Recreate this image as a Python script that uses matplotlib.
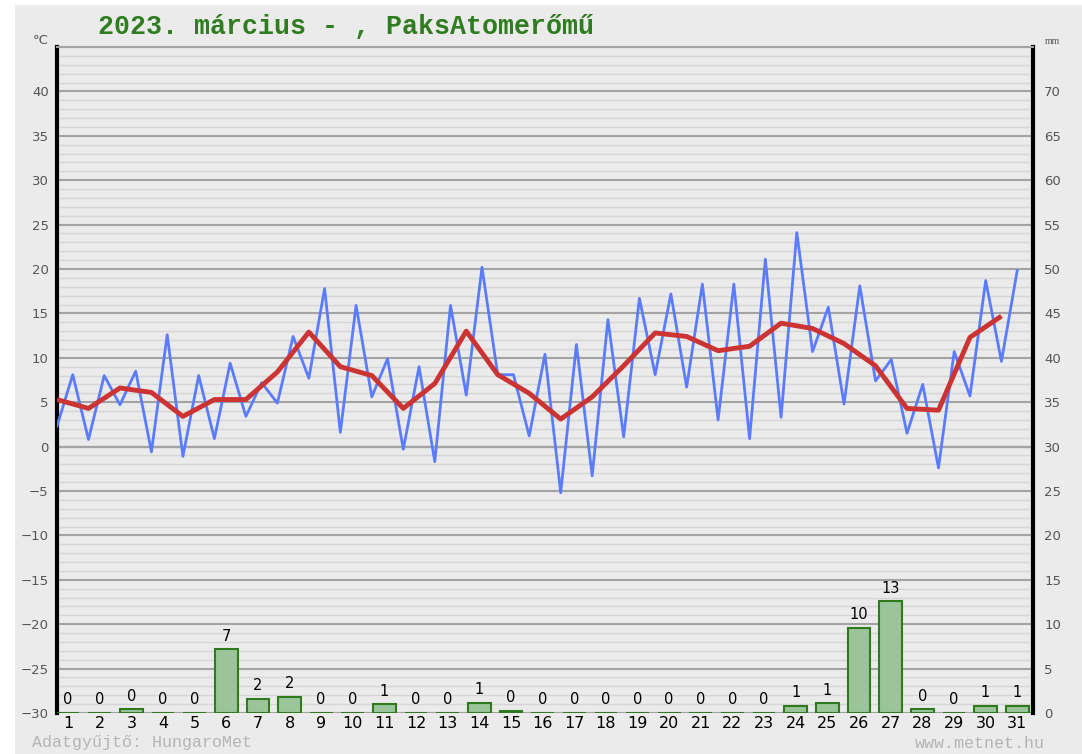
import matplotlib.pyplot as plt
import matplotlib.patches as mpatches
import numpy as np

# daily readings, 2023 March, Paks
days = list(range(1, 32))
tmin = [2.3, 0.8, 4.7, -0.6, -1.1, 0.9, 3.4, 4.9, 7.7, 1.6, 5.6, -0.3, -1.7, 5.8, 8.1, 1.2,
        -5.2, -3.3, 1.1, 8.1, 6.7, 3.0, 0.9, 3.3, 10.7, 4.8, 7.4, 1.5, -2.4, 5.7, 9.6]
tmax = [8.1, 8.0, 8.5, 12.6, 8.0, 9.4, 7.2, 12.4, 17.8, 15.9, 9.9, 9.0, 15.9, 20.2, 8.1, 10.4,
        11.5, 14.3, 16.7, 17.2, 18.3, 18.3, 21.1, 24.1, 15.7, 18.1, 9.8, 7.0, 10.7, 18.7, 19.8]
tmean = [5.3, 4.3, 6.6, 6.1, 3.4, 5.3, 5.3, 8.4, 12.9, 9.0, 8.0, 4.3, 7.1, 13.0, 8.1, 6.0,
         3.1, 5.6, 9.1, 12.8, 12.4, 10.8, 11.3, 13.9, 13.3, 11.6, 9.1, 4.3, 4.1, 12.3, 14.7]
precip = [0, 0, 0.4, 0, 0, 7.2, 1.6, 1.8, 0, 0, 1.0, 0, 0, 1.15, 0.25, 0,
          0, 0, 0, 0, 0, 0, 0, 0.8, 1.1, 9.6, 12.6, 0.4, 0, 0.8, 0.8]

W, H = 1082, 754
fig = plt.figure(figsize=(W / 100, H / 100), dpi=100, facecolor='white')
fig.patches.append(mpatches.Rectangle((15 / W, 0), 1, 1 - 5 / H, transform=fig.transFigure,
                                      facecolor='#ebebeb', edgecolor='none', zorder=-10))

ax = fig.add_axes([57 / W, 1 - 713 / H, (1033 - 57) / W, (713 - 47) / H])
ax.set_facecolor('#ebebeb')
ax.set_xlim(0.65, 31.5)
ax.set_ylim(-30, 45)

# grid
ax.set_yticks(range(-30, 41, 5))
ax.set_yticks(range(-30, 46), minor=True)
ax.grid(True, axis='y', which='minor', color='#d6d6d6', lw=1.0, zorder=0)
ax.grid(True, axis='y', which='major', color='#a3a3a3', lw=1.5, zorder=0)
ax.axhline(0, color='black', lw=1.5, zorder=1)
ax.tick_params(axis='y', which='both', length=0, labelsize=9.5, labelcolor='#555555', pad=6)

for s in ['left', 'right']:
    ax.spines[s].set_linewidth(3)
    ax.spines[s].set_color('black')
ax.spines['top'].set_color('#a3a3a3')
ax.spines['top'].set_linewidth(1.5)
ax.spines['bottom'].set_visible(False)

# temperature lines: two readings per day
xl = np.linspace(0.65, 31.0, 62)
tline = np.ravel(np.column_stack([tmin, tmax]))
ax.plot(xl, tline, color='#5b7cff', lw=2.0, zorder=3)
ax.plot(xl[::2], tmean, color='#cc3333', lw=3.5, zorder=4, solid_capstyle='butt')

ax.set_xticks(days)
ax.set_xticklabels([str(d) for d in days])
ax.tick_params(axis='x', length=0, labelsize=11.5, labelcolor='black', pad=2)

# precipitation on the right axis
ax2 = ax.twinx()
ax2.set_ylim(0, 75)
ax2.set_yticks(range(0, 71, 5))
ax2.tick_params(axis='y', length=0, labelsize=9.5, labelcolor='#555555', pad=8)
for s in ax2.spines.values():
    s.set_visible(False)
bars = ax2.bar(days, precip, width=0.72, color='#9bc49b', edgecolor='#2f7a1c', lw=1.5, zorder=2)
for d, p in zip(days, precip):
    ax2.annotate(f"{p:.0f}", (d, p), xytext=(0, 4), textcoords='offset points',
                 ha='center', va='bottom', fontsize=10.5, color='black')

fig.text(98 / W, 1 - 27 / H, "2023. március - , PaksAtomerőmű", family='Liberation Mono',
         weight='bold', fontsize=19.2, color='#2e7d1e', va='center', ha='left')
fig.text(41 / W, 1 - 40 / H, "°C", fontsize=9.5, color='#555555', ha='center', va='center')
fig.text(1052 / W, 1 - 42 / H, "mm", fontsize=7, color='#555555', ha='center', va='center',
         family='Liberation Serif')
fig.text(32 / W, 1 - 743 / H, "Adatgyűjtő: HungaroMet", family='Liberation Mono',
         fontsize=12, color='#b5b5b5', ha='left', va='center')
fig.text(1045 / W, 1 - 743 / H, "www.metnet.hu", family='Liberation Mono',
         fontsize=12, color='#b5b5b5', ha='right', va='center')

fig.savefig('out.png', dpi=100, facecolor=fig.get_facecolor())
